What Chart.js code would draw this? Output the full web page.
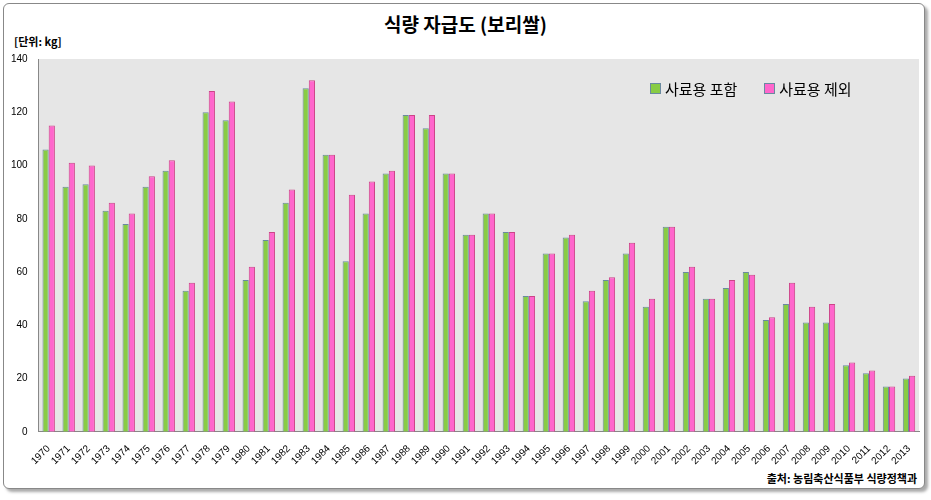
<!DOCTYPE html>
<html><head><meta charset="utf-8">
<script src="https://cdn.jsdelivr.net/npm/chart.js@4/dist/chart.umd.min.js"></script>
<style>
body{margin:0;background:#fff;font-family:"Noto Sans CJK KR",sans-serif;}
#frame{position:absolute;left:3px;top:3px;width:920px;height:484px;border:1px solid #888;border-radius:6px;box-shadow:3px 3px 3px #aaa;background:#fff;}
#title{position:absolute;left:0;top:10px;width:931px;text-align:center;font-size:19px;font-weight:bold;color:#000;}
#unit{position:absolute;left:14px;top:33px;font-size:11px;font-weight:bold;}
#src{position:absolute;right:14px;top:470px;font-size:11px;font-weight:bold;}
#legend{position:absolute;left:650px;top:78px;font-size:15px;}
#legend span.box{display:inline-block;width:9px;height:9px;margin-right:4px;vertical-align:1px;border:1px solid #6a8aa0;}
#wrap{position:absolute;left:0;top:50px;width:925px;height:420px;}
</style></head><body>
<div id="frame"></div>
<div id="title">식량 자급도 (보리쌀)</div>
<div id="unit">[단위: kg]</div>
<div id="src">출처: 농림축산식품부 식량정책과</div>
<div id="wrap"><canvas id="c"></canvas></div>
<div id="legend"><span class="box" style="background:#88cc44"></span>사료용 포함&nbsp;&nbsp;&nbsp;&nbsp;&nbsp;&nbsp;&nbsp;&nbsp;<span class="box" style="background:#ff66cc"></span>사료용 제외</div>
<script>
// data
const years = ['1970','1971','1972','1973','1974','1975','1976','1977','1978','1979','1980','1981','1982','1983','1984','1985','1986','1987','1988','1989','1990','1991','1992','1993','1994','1995','1996','1997','1998','1999','2000','2001','2002','2003','2004','2005','2006','2007','2008','2009','2010','2011','2012','2013'];
const withFeed = [106,92,93,83,78,92,98,53,120,117,57,72,86,129,104,64,82,97,119,114,97,74,82,75,51,67,73,49,57,67,47,77,60,50,54,60,42,48,41,41,25,22,17,20];
const withoutFeed = [115,101,100,86,82,96,102,56,128,124,62,75,91,132,104,89,94,98,119,119,97,74,82,75,51,67,74,53,58,71,50,77,62,50,57,59,43,56,47,48,26,23,17,21];

const ctx = document.getElementById('c').getContext('2d');
new Chart(ctx, {
    type: 'bar',
    data: {
        labels: years,
        datasets: [
            { label: '사료용 포함', data: withFeed, backgroundColor: '#88cc44', borderColor: '#6a8aa0', borderWidth: 1, categoryPercentage: 0.62, barPercentage: 1 },
            { label: '사료용 제외', data: withoutFeed, backgroundColor: '#ff66cc', borderColor: '#cc4488', borderWidth: 1, categoryPercentage: 0.62, barPercentage: 1 }
        ]
    },
    options: {
        responsive: true,
        maintainAspectRatio: false,
        animation: false,
        layout: { padding: { left: 8, right: 6, top: 4, bottom: 0 } },
        plugins: { legend: { display: false }, tooltip: { enabled: false } },
        scales: {
            x: {
                grid: { display: false, drawTicks: true },
                border: { color: '#888' },
                ticks: { color: '#000', font: { size: 10, family: 'Liberation Sans' }, maxRotation: 45, minRotation: 45, autoSkip: false }
            },
            y: {
                min: 0, max: 140,
                ticks: { stepSize: 20, color: '#000', font: { size: 10, family: 'Liberation Sans' } },
                grid: { display: false },
                border: { color: '#888' }
            }
        }
    },
    plugins: [{
        id: 'bg',
        beforeDraw(chart) {
            const a = chart.chartArea, c = chart.ctx;
            c.save(); c.fillStyle = '#e6e6e6';
            c.fillRect(a.left, a.top, a.right - a.left, a.bottom - a.top);
            c.restore();
        }
    }]
});
</script>
</body></html>
